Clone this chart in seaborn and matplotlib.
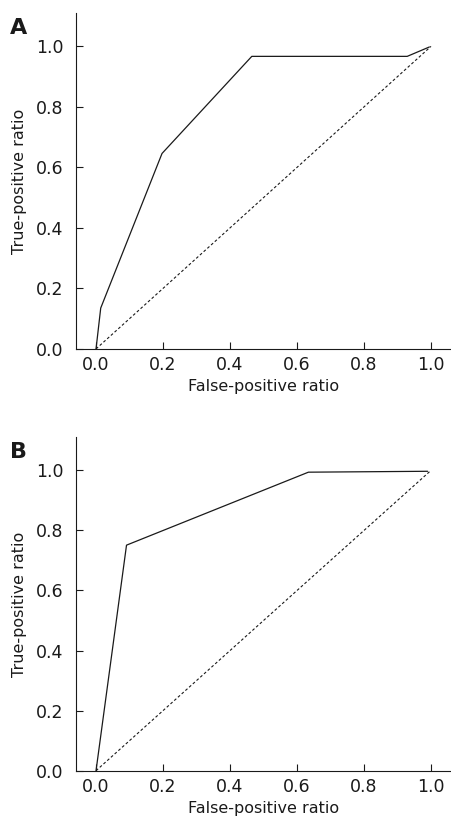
import pandas as pd
import seaborn as sns
import matplotlib.pyplot as plt

# ROC points
fpr_a = [0.0, 0.014, 0.197, 0.465, 0.929, 0.995]
tpr_a = [0.0, 0.135, 0.646, 0.967, 0.967, 0.998]
fpr_b = [0.0, 0.091, 0.634, 0.99]
tpr_b = [0.0, 0.751, 0.994, 0.997]
diag = [0.0, 1.0]
ticks = [0.0, 0.2, 0.4, 0.6, 0.8, 1.0]
panel_labels = ['A', 'B']

sns.set_style('ticks')
plt.rcParams['font.family'] = ['DejaVu Sans']

fig = plt.figure(figsize=(4.52, 8.19), dpi=100)
ax_a = fig.add_axes([0.168, 0.574, 0.83, 0.41])
ax_b = fig.add_axes([0.168, 0.059, 0.83, 0.407])

curves = [(fpr_a, tpr_a), (fpr_b, tpr_b)]
for ax, (fx, ty), lab in zip([ax_a, ax_b], curves, panel_labels):
    df = pd.DataFrame({'fpr': fx, 'tpr': ty})
    sns.lineplot(data=df, x='fpr', y='tpr', sort=False, ax=ax,
                 color='#1a1a1a', linewidth=0.9)
    sns.lineplot(x=diag, y=diag, ax=ax, color='#1a1a1a',
                 linewidth=0.8, linestyle=(0, (2.5, 2)))
    ax.set_xlim(-0.06, 1.06)
    ax.set_ylim(0, 1.11)
    ax.set_xticks(ticks)
    ax.set_yticks(ticks)
    ax.set_xticklabels([f'{t:.1f}' for t in ticks])
    ax.set_yticklabels([f'{t:.1f}' for t in ticks])
    ax.tick_params(direction='in', length=5, width=0.8, labelsize=12.5,
                   colors='#1a1a1a')
    ax.tick_params(axis='y', pad=9)
    ax.tick_params(axis='x', pad=5)
    ax.set_xlabel('False-positive ratio', fontsize=11.5, color='#1a1a1a',
                  labelpad=4)
    ax.set_ylabel('True-positive ratio', fontsize=11.5, color='#1a1a1a',
                  labelpad=6)
    for side in ['left', 'bottom']:
        ax.spines[side].set_linewidth(0.8)
        ax.spines[side].set_color('#1a1a1a')
    sns.despine(ax=ax)
    ax.text(-0.176, 0.985, lab, transform=ax.transAxes, fontsize=16,
            fontweight='bold', color='#1a1a1a', va='top', ha='left')

fig.savefig('out.png', dpi=100)
